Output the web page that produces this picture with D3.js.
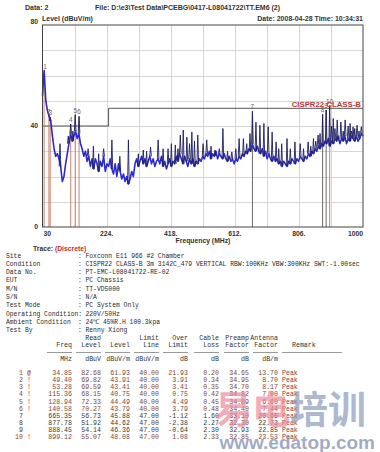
<!DOCTYPE html>
<html>
<head>
<meta charset="utf-8">
<script src="https://cdn.jsdelivr.net/npm/d3@7"></script>
<style>
body { margin: 0; background: #fff; }
text { font-family: "Liberation Sans", Arial, sans-serif; }
.mono text { font-family: "Liberation Mono", "DejaVu Sans Mono", monospace; font-size: 6.6px; }
.info text { font-size: 6.35px; }
</style>
</head>
<body>
<svg id="chart" width="380" height="452"></svg>
<script>

// trace, one level every 5 MHz from 30 to 1000
var traceStart = 30, traceStep = 5;
var traceLevels = [
	52, 62, 50, 46, 44, 42, 36, 31, 28, 29,
	27, 24, 18, 20, 25, 29, 33, 37, 34, 36,
	38, 35, 37, 33, 31, 28, 30, 26, 28, 24,
	27, 23, 27, 25, 22, 26, 24, 28, 22, 25,
	24, 27, 23, 21, 25, 20, 25, 22, 19, 21,
	18, 20, 17, 19, 22, 20, 25, 27, 24, 26,
	28, 25, 27, 24, 26, 28, 25, 27, 24, 26,
	27, 25, 28, 24, 26, 23, 25, 27, 24, 26,
	25, 28, 26, 29, 27, 25, 28, 26, 24, 27,
	25, 27, 24, 26, 25, 27, 26, 28, 27, 29,
	28, 30, 27, 29, 28, 30, 27, 29, 28, 27,
	29, 27, 26, 28, 26, 27, 25, 27, 26, 28,
	27, 29, 28, 30, 29, 31, 30, 33, 31, 30,
	32, 30, 29, 31, 28, 30, 27, 29, 27, 26,
	28, 26, 27, 25, 26, 24, 26, 25, 24, 26,
	25, 27, 26, 25, 27, 26, 28, 27, 26, 28,
	27, 29, 28, 30, 29, 31, 30, 32, 31, 33,
	32, 34, 33, 35, 32, 34, 33, 35, 34, 36,
	33, 35, 34, 36, 33, 35, 34, 36, 35, 34,
	36, 34, 35, 37, 36
];

// dark narrow peaks on top of the trace [MHz, dBuV/m]
var spikes = [
	[83, 33], [108, 36], [122, 38], [168, 31], [184, 32], [200, 29], [215, 31], [240, 34.5],
	[264, 28], [290, 34.5], [320, 29], [335, 30.5], [345, 30], [357, 31.7], [380, 34.5], [395, 31],
	[410, 31], [420, 33], [432, 32.5], [440, 31], [447, 36.4], [456, 38.4], [467, 35.6], [475, 33],
	[482, 37.6], [490, 34], [500, 36.4], [516, 33], [527, 34.5], [540, 32], [552, 30.5], [565, 31],
	[576, 39], [590, 30], [603, 29.7], [615, 31], [625, 35], [638, 35], [648, 33], [658, 37],
	[676, 41.5], [688, 40.3], [700, 41], [713, 39.7], [725, 37.6], [737, 33.7], [745, 31], [754, 33],
	[770, 35], [780, 31], [794, 33.7], [810, 33], [820, 31], [834, 33.7], [842, 32], [850, 35],
	[857, 34], [864, 36.4], [870, 37], [905, 40], [910, 43], [915, 39], [922, 42.4], [933, 41.6],
	[940, 38], [946, 42.4], [955, 40], [961, 41], [965, 38], [970, 39.7], [975, 39], [982, 40.3],
	[988, 38], [995, 39.7]
];

var limitFreq = [30, 230, 230, 1000];
var limitLevel = [40, 40, 47, 47];

var xTicks = [30, 224, 418, 612, 806, 1000];
var xTickLabels = ["30", "224.", "418.", "612.", "806.", "1000"];
var yTicks = [0, 40, 80];

// marker table
var markerNo = ["1", "2", "3", "4", "5", "6", "7", "8", "9", "10"];
var markerFlag = ["@", "!", "!", "!", "!", "!", "", "", "", "!"];
var markerFreq = [34.85, 49.40, 53.28, 115.36, 128.94, 140.58, 665.35, 877.78, 888.45, 899.12];
var readLevel = [82.68, 69.82, 69.59, 68.15, 72.33, 70.27, 56.73, 51.92, 54.14, 55.07];
var markerLevel = [61.93, 43.91, 43.41, 40.75, 44.49, 43.79, 45.88, 44.62, 46.36, 48.08];
var limitLine = [40.00, 40.00, 40.00, 40.00, 40.00, 40.00, 47.00, 47.00, 47.00, 47.00];
var overLimit = [21.93, 3.91, 3.41, 0.75, 4.49, 3.79, -1.12, -2.38, -0.64, 1.08];
var cableLoss = [0.20, 0.34, 0.35, 0.42, 0.45, 0.48, 1.60, 2.27, 2.30, 2.33];
var preampFactor = [34.65, 34.95, 34.70, 34.82, 34.89, 34.40, 33.10, 32.30, 32.93, 32.85];
var antennaFactor = [13.70, 8.70, 8.17, 7.00, 6.60, 7.44, 20.65, 22.73, 22.85, 23.53];
var remark = ["Peak", "Peak", "Peak", "Peak", "Peak", "Peak", "Peak", "Peak", "Peak", "Peak"];

var headRow1 = ["", "Read", "", "Limit", "Over", "Cable", "Preamp", "Antenna"];
var headRow2 = ["Freq", "Level", "Level", "Line", "Limit", "Loss", "Factor", "Factor"];
var unitRow = ["MHz", "dBuV", "dBuV/m", "dBuV/m", "dB", "dB", "dB", "dB/m"];

var infoLabels = ["Site", "Condition", "Data No.", "EUT", "M/N", "S/N", "Test Mode",
	"Operating Condition:", "Ambient Condition", "Test By"];
var infoValues = ["Foxconn E11 966 #2 Chamber",
	"CISPR22 CLASS-B 3m 3142C_479 VERTICAL RBW:100KHz VBW:300KHz SWT:-1.00sec",
	"PT-EMC-L08041722-RE-02", "PC Chassis", "TT-VD5000", "N/A", "PC System Only",
	"220V/50Hz", "24\u2103 45%R.H 100.3kpa", "Renny Xiong"];


var svg = d3.select("#chart");

var x = d3.scaleLinear().domain([30, 1000]).range([42.5, 363]);
var y = d3.scaleLinear().domain([0, 80]).range([227, 25]);

// header
svg.append("text").attr("x", 25).attr("y", 10).attr("font-size", 7).attr("font-weight", "bold")
	.attr("fill", "#333").text("Data: 2");
svg.append("text").attr("x", 95).attr("y", 10).attr("font-size", 7).attr("font-weight", "bold")
	.attr("fill", "#333").text("File: D:\\e3\\Test Data\\PCEBG\\0417-L08041722\\TT.EM6  (2)");
svg.append("text").attr("x", 42).attr("y", 21).attr("font-size", 7).attr("font-weight", "bold")
	.attr("fill", "#333").text("Level (dBuV/m)");
svg.append("text").attr("x", 363).attr("y", 21).attr("font-size", 7).attr("font-weight", "bold")
	.attr("text-anchor", "end").attr("fill", "#333").text("Date: 2008-04-28  Time: 10:34:31");

// grid
var grid = svg.append("g").attr("stroke", "#d6d6d6").attr("stroke-width", 1);
grid.selectAll("line.v").data(d3.range(1, 10)).enter().append("line")
	.attr("x1", function(d) { return Math.round(x(30 + d * 97)) + 0.5; })
	.attr("x2", function(d) { return Math.round(x(30 + d * 97)) + 0.5; })
	.attr("y1", y(80)).attr("y2", y(0));
grid.selectAll("line.h").data(d3.range(10, 80, 10)).enter().append("line")
	.attr("x1", x(30)).attr("x2", x(1000))
	.attr("y1", function(d) { return Math.round(y(d)) + 0.5; })
	.attr("y2", function(d) { return Math.round(y(d)) + 0.5; });

// limit line
var limitPts = limitFreq.map(function(f, i) { return [f, limitLevel[i]]; });
svg.append("path").datum(limitPts)
	.attr("d", d3.line().x(function(d) { return x(d[0]); }).y(function(d) { return y(d[1]); }))
	.attr("fill", "none").attr("stroke", "#555").attr("stroke-width", 1);

// markers
var isOver = function(i) { return markerFlag[i] != ""; };
svg.append("g").selectAll("line").data(markerFreq).enter().append("line")
	.attr("x1", function(d) { return x(d); }).attr("x2", function(d) { return x(d); })
	.attr("y1", y(0))
	.attr("y2", function(d, i) { return y(markerLevel[i]); })
	.attr("stroke", function(d, i) { return isOver(i) ? "#c8836f" : "#6a6a6a"; })
	.attr("stroke-width", 1);

// trace
var tracePts = traceLevels.map(function(v, i) { return [traceStart + i * traceStep, v]; });
svg.append("path").datum(tracePts)
	.attr("d", d3.line().x(function(d) { return x(d[0]); }).y(function(d) { return y(d[1]); }))
	.attr("fill", "none").attr("stroke", "#2a2ad2").attr("stroke-width", 1.6)
	.attr("stroke-linejoin", "round");

var baseAt = function(f) {
	var i = Math.max(0, Math.min(traceLevels.length - 1, Math.round((f - traceStart) / traceStep)));
	return traceLevels[i];
};
var allSpikes = spikes.concat(markerFreq.slice(1).map(function(f, i) { return [f, markerLevel[i + 1]]; }));
svg.append("g").selectAll("path").data(allSpikes).enter().append("path")
	.attr("d", function(d) {
		var b = baseAt(d[0]);
		return "M" + x(d[0] - 2.5) + "," + y(b) + "L" + x(d[0]) + "," + y(d[1]) + "L" + x(d[0] + 2.5) + "," + y(b);
	})
	.attr("fill", "none").attr("stroke", "#1e1e5e").attr("stroke-width", 0.9);

// marker numbers
svg.append("g").selectAll("text").data(markerFreq).enter().append("text")
	.attr("x", function(d, i) { return x(d) + (i == 0 ? 1 : 0); })
	.attr("y", function(d, i) { return y(markerLevel[i]) - 2; })
	.attr("text-anchor", "middle").attr("font-size", 6.5)
	.attr("fill", "#7a6058")
	.text(function(d, i) { return markerNo[i]; });

svg.append("text").attr("x", 361).attr("y", 107).attr("text-anchor", "end")
	.attr("font-size", 7.8).attr("font-weight", "bold").attr("fill", "#b23a3a")
	.text("CISPR22 CLASS-B");

// frame
svg.append("rect").attr("x", x(30)).attr("y", y(80))
	.attr("width", x(1000) - x(30)).attr("height", y(0) - y(80))
	.attr("fill", "none").attr("stroke", "#444").attr("stroke-width", 1);

// axis labels
svg.append("g").selectAll("text").data(yTicks).enter().append("text")
	.attr("x", 38).attr("y", function(d) { return y(d) + (d == 80 ? -1 : 2); })
	.attr("text-anchor", "end").attr("font-size", 6.8).attr("font-weight", "bold")
	.attr("fill", "#333").text(function(d) { return d; });
svg.append("g").selectAll("text").data(xTicks).enter().append("text")
	.attr("x", function(d, i) { return i == 0 ? x(d) + 1 : x(d); })
	.attr("y", 236)
	.attr("text-anchor", function(d, i) { return i == 0 ? "start" : (i == xTicks.length - 1 ? "end" : "middle"); })
	.attr("font-size", 6.8).attr("font-weight", "bold").attr("fill", "#333")
	.text(function(d, i) { return xTickLabels[i]; });
svg.append("text").attr("x", 203).attr("y", 243).attr("text-anchor", "middle")
	.attr("font-size", 6.8).attr("font-weight", "bold").attr("fill", "#333").text("Frequency (MHz)");

var tr = svg.append("text").attr("x", 33).attr("y", 251).attr("font-size", 6.8).attr("font-weight", "bold");
tr.append("tspan").attr("fill", "#333").text("Trace: ");
tr.append("tspan").attr("fill", "#c03030").text("(Discrete)");

// info block
var info = svg.append("g").attr("class", "mono info").attr("fill", "#2a2a2a");
infoLabels.forEach(function(lab, i) {
	var yy = 257.5 + i * 8.3;
	info.append("text").attr("x", 6).attr("y", yy).text(lab);
	if (lab.indexOf(":") < 0) info.append("text").attr("x", 78).attr("y", yy).text(":");
	info.append("text").attr("x", 85.5).attr("y", yy).text(infoValues[i]);
});

// table
var colEnd = [72, 101, 130, 159, 188, 219, 249, 278];
var tbl = svg.append("g").attr("class", "mono");
headRow1.forEach(function(t, i) {
	tbl.append("text").attr("x", colEnd[i]).attr("y", 340).attr("text-anchor", "end").attr("fill", "#333").text(t);
});
headRow2.forEach(function(t, i) {
	tbl.append("text").attr("x", colEnd[i]).attr("y", 347.4).attr("text-anchor", "end").attr("fill", "#333").text(t);
});
tbl.append("text").attr("x", 292).attr("y", 347.4).attr("fill", "#333").text("Remark");
colEnd.forEach(function(c) {
	tbl.append("line").attr("x1", c - 25).attr("x2", c).attr("y1", 352.5).attr("y2", 352.5)
		.attr("stroke", "#555").attr("stroke-width", 0.6);
});
tbl.append("line").attr("x1", 282).attr("x2", 342).attr("y1", 352.5).attr("y2", 352.5)
	.attr("stroke", "#555").attr("stroke-width", 0.6);
unitRow.forEach(function(t, i) {
	tbl.append("text").attr("x", colEnd[i]).attr("y", 360.6).attr("text-anchor", "end").attr("fill", "#333").text(t);
});

var cols = [markerFreq, readLevel, markerLevel, limitLine, overLimit, cableLoss, preampFactor, antennaFactor];
markerNo.forEach(function(n, r) {
	var yy = 375.3 + r * 7.05;
	var col = isOver(r) ? "#7d4640" : "#3a3a3a";
	tbl.append("text").attr("x", 23).attr("y", yy).attr("text-anchor", "end").attr("fill", col).text(n);
	tbl.append("text").attr("x", 27).attr("y", yy).attr("fill", "#a03030").text(markerFlag[r]);
	cols.forEach(function(arr, c) {
		tbl.append("text").attr("x", colEnd[c]).attr("y", yy).attr("text-anchor", "end")
			.attr("fill", col).text(arr[r].toFixed(2));
	});
	tbl.append("text").attr("x", 282).attr("y", yy).attr("fill", "#8b3a3a").text(remark[r]);
});

// watermark
var wm = svg.append("text").attr("x", 214).attr("y", 423)
	.attr("font-size", 38).attr("font-weight", "bold")
	.style("font-family", "'Noto Sans CJK SC', sans-serif").attr("fill-opacity", 0.7);
wm.append("tspan").attr("fill", "#ec8a9c").text("易电");
wm.append("tspan").attr("fill", "#8a9aba").text("培训");
svg.append("text").attr("x", 375).attr("y", 449).attr("text-anchor", "end")
	.attr("font-size", 19).attr("font-weight", "bold").attr("fill", "#7f90b3").attr("fill-opacity", 0.75)
	.text("www.edatop.com");

</script>
</body>
</html>
